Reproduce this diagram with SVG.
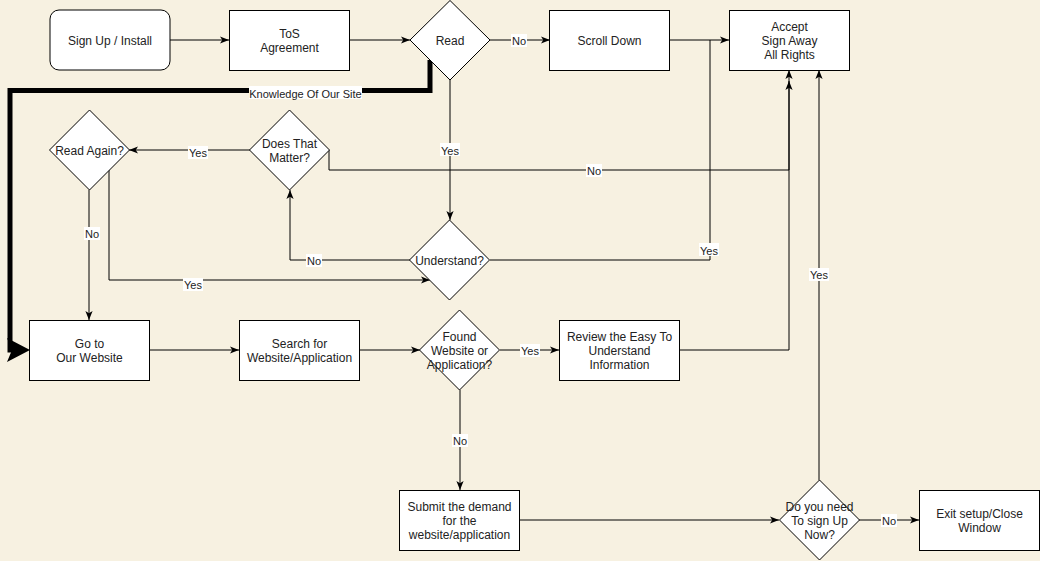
<svg xmlns="http://www.w3.org/2000/svg" width="1040" height="561" viewBox="0 0 1040 561">
  <defs>
    <style>
      .bg { fill: #F7F1E1; }
      .box { fill: #FFFFFF; stroke: #000000; stroke-width: 1; }
      .t { font-family: "Liberation Sans", Arial, Helvetica, sans-serif; font-size: 12px; fill: #222222; text-anchor: middle; dominant-baseline: central; }
      .edge { fill: none; stroke: #000000; stroke-width: 1; }
      .thick { fill: none; stroke: #000000; stroke-width: 5; stroke-linejoin: miter; }
      .lbl-bg { fill: #FFFFFF; }
      .lbl { font-family: "Liberation Sans", Arial, Helvetica, sans-serif; font-size: 11px; fill: #222222; text-anchor: middle; dominant-baseline: central; }
    </style>
    <marker id="arrow" viewBox="0 0 10 10" refX="10" refY="5" markerWidth="9" markerHeight="9" markerUnits="userSpaceOnUse" orient="auto">
      <path d="M0,1 L10,5 L0,9 L2.5,5 z" fill="#000000"/>
    </marker>
    <marker id="arrow-big" viewBox="0 0 24 24" refX="5" refY="12" markerWidth="24" markerHeight="24" markerUnits="userSpaceOnUse" orient="auto">
      <path d="M0,0 L23,12 L0,24 L5,12 z" fill="#000000"/>
    </marker>
  </defs>

  <rect class="bg" x="0" y="0" width="1040" height="561"/>

  <!-- connectors -->
  <g id="connectors">
    <!-- Sign Up -> ToS -->
    <path class="edge" d="M170,40 L229,40" marker-end="url(#arrow)"/>
    <!-- ToS -> Read -->
    <path class="edge" d="M349,40 L410,40" marker-end="url(#arrow)"/>
    <!-- Read -> Scroll Down (No) -->
    <path class="edge" d="M490,40 L550,40" marker-end="url(#arrow)"/>
    <!-- Scroll Down -> Accept -->
    <path class="edge" d="M669,40 L729,40" marker-end="url(#arrow)"/>
    <!-- Read -> Understand (Yes) -->
    <path class="edge" d="M450,80 L450,220" marker-end="url(#arrow)"/>
    <!-- Understand -> Accept (Yes) -->
    <path class="edge" d="M490,260 L710,260 L710,40"/>
    <!-- Understand -> Does That Matter (No) -->
    <path class="edge" d="M410,260 L290,260 L290,190" marker-end="url(#arrow)"/>
    <!-- Does That Matter -> Read Again (Yes) -->
    <path class="edge" d="M250,150 L129,150" marker-end="url(#arrow)"/>
    <!-- Does That Matter -> Accept (No) -->
    <path class="edge" d="M329,150 L329,170 L789,170 L789,70" marker-end="url(#arrow)"/>
    <!-- Read Again -> Understand (Yes) -->
    <path class="edge" d="M109,170 L109,280 L430,280" marker-end="url(#arrow)"/>
    <!-- Read Again -> Go to Our Website (No) -->
    <path class="edge" d="M89,190 L89,320" marker-end="url(#arrow)"/>
    <!-- Read -> Go to Our Website (Knowledge Of Our Site) -->
    <path class="thick" d="M430,60 L430,90.5 L10,90.5 L10,350 L12,350" marker-end="url(#arrow-big)"/>
    <!-- Go to Our Website -> Search -->
    <path class="edge" d="M150,350 L239,350" marker-end="url(#arrow)"/>
    <!-- Search -> Found -->
    <path class="edge" d="M359,350 L420,350" marker-end="url(#arrow)"/>
    <!-- Found -> Review (Yes) -->
    <path class="edge" d="M500,350 L559,350" marker-end="url(#arrow)"/>
    <!-- Review -> Accept -->
    <path class="edge" d="M679,350 L789,350 L789,81" marker-end="url(#arrow)"/>
    <!-- Found -> Submit (No) -->
    <path class="edge" d="M460,390 L460,490" marker-end="url(#arrow)"/>
    <!-- Submit -> Do you need -->
    <path class="edge" d="M519,520 L779,520" marker-end="url(#arrow)"/>
    <!-- Do you need -> Exit (No) -->
    <path class="edge" d="M859,520 L919,520" marker-end="url(#arrow)"/>
    <!-- Do you need -> Accept (Yes) -->
    <path class="edge" d="M819,480 L819,70" marker-end="url(#arrow)"/>

    <!-- edge labels -->
    <rect class="lbl-bg" x="249" y="86" width="113" height="13"/>
    <text class="lbl" x="305.5" y="93.5">Knowledge Of Our Site</text>
    <rect class="lbl-bg" x="511" y="34" width="16" height="13"/>
    <text class="lbl" x="519" y="41">No</text>
    <rect class="lbl-bg" x="440" y="143" width="20" height="13"/>
    <text class="lbl" x="450" y="150.5">Yes</text>
    <rect class="lbl-bg" x="699" y="243" width="20" height="13"/>
    <text class="lbl" x="709" y="250.5">Yes</text>
    <rect class="lbl-bg" x="306" y="254" width="16" height="13"/>
    <text class="lbl" x="314" y="261">No</text>
    <rect class="lbl-bg" x="188" y="146" width="20" height="13"/>
    <text class="lbl" x="198" y="153">Yes</text>
    <rect class="lbl-bg" x="586" y="164" width="16" height="13"/>
    <text class="lbl" x="594" y="171">No</text>
    <rect class="lbl-bg" x="183" y="278" width="20" height="13"/>
    <text class="lbl" x="193" y="285">Yes</text>
    <rect class="lbl-bg" x="84" y="227" width="16" height="13"/>
    <text class="lbl" x="92" y="234">No</text>
    <rect class="lbl-bg" x="520" y="344" width="20" height="13"/>
    <text class="lbl" x="530" y="351">Yes</text>
    <rect class="lbl-bg" x="452" y="434" width="16" height="13"/>
    <text class="lbl" x="460" y="441">No</text>
    <rect class="lbl-bg" x="881" y="514" width="16" height="13"/>
    <text class="lbl" x="889" y="521">No</text>
    <rect class="lbl-bg" x="809" y="268" width="20" height="13"/>
    <text class="lbl" x="819" y="275">Yes</text>
  </g>

  <!-- nodes -->
  <g id="node-signup">
    <rect class="box" x="50" y="10" width="120" height="60" rx="9" ry="9"/>
    <text class="t" x="110" y="41">Sign Up / Install</text>
  </g>
  <g id="node-tos">
    <rect class="box" x="229.5" y="10.5" width="120" height="60"/>
    <text class="t" x="289.5" y="34">ToS</text>
    <text class="t" x="289.5" y="48">Agreement</text>
  </g>
  <g id="node-read">
    <path class="box" d="M450,0.5 L490,40 L450,80 L410,40 z"/>
    <text class="t" x="450" y="41">Read</text>
  </g>
  <g id="node-scroll">
    <rect class="box" x="549.5" y="10.5" width="120" height="60"/>
    <text class="t" x="609.5" y="41">Scroll Down</text>
  </g>
  <g id="node-accept">
    <rect class="box" x="729.5" y="10.5" width="120" height="60"/>
    <text class="t" x="789.5" y="27">Accept</text>
    <text class="t" x="789.5" y="41">Sign Away</text>
    <text class="t" x="789.5" y="55">All Rights</text>
  </g>
  <g id="node-read-again">
    <path class="box" d="M89.5,110 L129.5,150 L89.5,190 L49.5,150 z"/>
    <text class="t" x="89.5" y="151">Read Again?</text>
  </g>
  <g id="node-matter">
    <path class="box" d="M289.5,110 L329.5,150 L289.5,190 L249.5,150 z"/>
    <text class="t" x="289.5" y="144">Does That</text>
    <text class="t" x="289.5" y="158">Matter?</text>
  </g>
  <g id="node-understand">
    <path class="box" d="M449.5,220 L489.5,260 L449.5,300 L409.5,260 z"/>
    <text class="t" x="449.5" y="261">Understand?</text>
  </g>
  <g id="node-goto">
    <rect class="box" x="29.5" y="320.5" width="120" height="60"/>
    <text class="t" x="89.5" y="344">Go to</text>
    <text class="t" x="89.5" y="358">Our Website</text>
  </g>
  <g id="node-search">
    <rect class="box" x="239.5" y="320.5" width="120" height="60"/>
    <text class="t" x="299.5" y="344">Search for</text>
    <text class="t" x="299.5" y="358">Website/Application</text>
  </g>
  <g id="node-found">
    <path class="box" d="M459.5,310 L499.5,350 L459.5,390 L419.5,350 z"/>
    <text class="t" x="459.5" y="337">Found</text>
    <text class="t" x="459.5" y="351">Website or</text>
    <text class="t" x="459.5" y="365">Application?</text>
  </g>
  <g id="node-review">
    <rect class="box" x="559.5" y="320.5" width="120" height="60"/>
    <text class="t" x="619.5" y="337">Review the Easy To</text>
    <text class="t" x="619.5" y="351">Understand</text>
    <text class="t" x="619.5" y="365">Information</text>
  </g>
  <g id="node-submit">
    <rect class="box" x="399.5" y="490.5" width="120" height="60"/>
    <text class="t" x="459.5" y="507">Submit the demand</text>
    <text class="t" x="459.5" y="521">for the</text>
    <text class="t" x="459.5" y="535">website/application</text>
  </g>
  <g id="node-signup-now">
    <path class="box" d="M819.5,480 L859.5,520 L819.5,560 L779.5,520 z"/>
    <text class="t" x="819.5" y="507">Do you need</text>
    <text class="t" x="819.5" y="521">To sign Up</text>
    <text class="t" x="819.5" y="535">Now?</text>
  </g>
  <g id="node-exit">
    <rect class="box" x="919.5" y="490.5" width="120" height="60"/>
    <text class="t" x="979.5" y="514">Exit setup/Close</text>
    <text class="t" x="979.5" y="528">Window</text>
  </g>
</svg>
